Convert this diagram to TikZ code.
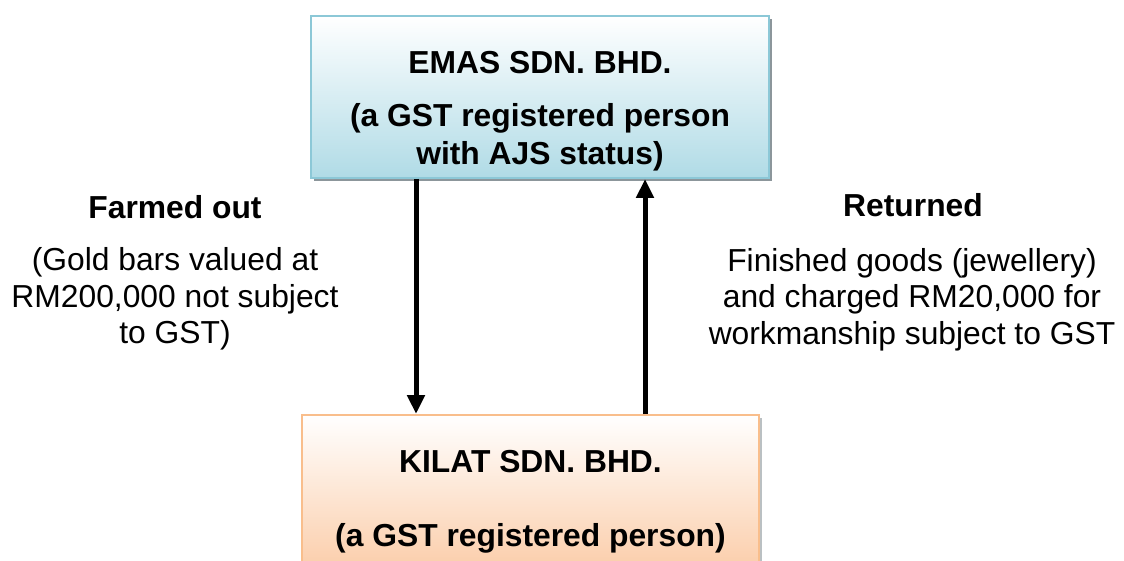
\documentclass[tikz,border=0pt]{standalone}
\usepackage{fontspec}
\setmainfont{Liberation Sans}
\usetikzlibrary{arrows.meta,shadows,calc}
\definecolor{bluebd}{RGB}{140,200,215}
\definecolor{bluebot}{RGB}{176,219,230}
\definecolor{orgbd}{RGB}{249,190,140}
\definecolor{orgbot}{RGB}{251,203,166}
\definecolor{shadowgrey}{RGB}{140,150,155}
\begin{document}
\begin{tikzpicture}[x=1pt,y=-1pt,
  bigtxt/.style={font=\fontsize{31.8}{36.5}\selectfont, inner sep=0pt, align=center},
  boldtxt/.style={bigtxt, font=\fontsize{31.8}{37.5}\selectfont\bfseries},
  bluebox/.style={draw=bluebd, line width=2pt, top color=white, bottom color=bluebot,
    drop shadow={shadow xshift=3pt, shadow yshift=-3pt, fill=shadowgrey, opacity=1}},
  orgbox/.style={draw=orgbd, line width=2pt, top color=white, bottom color=orgbot,
    drop shadow={shadow xshift=3pt, shadow yshift=-3pt, fill=shadowgrey!60, opacity=1}},
  arr/.style={line width=5pt, -{Triangle[length=19pt,width=17pt]}}
]
\useasboundingbox (0,0) rectangle (1124,561);
\clip (0,0) rectangle (1124,561);
\node[bluebox, minimum width=458pt, minimum height=162pt, inner sep=0pt] (emas) at (540,97) {};
\node[orgbox, minimum width=457pt, minimum height=162pt, inner sep=0pt] (kilat) at (530.5,496) {};

\node[boldtxt] (emast) at (540,63) {EMAS SDN. BHD.};
\node[boldtxt] (emasd) at (540,137.5) {(a GST registered person\\with AJS status)};
\node[boldtxt] (kilatt) at (530.5,462) {KILAT SDN. BHD.};
\node[boldtxt] (kilatd) at (530.5,538) {(a GST registered person)};

\coordinate (xl) at (416,0);
\coordinate (xr) at (645,0);
\draw[arr] (xl |- emas.south) -- (xl |- kilat.north);
\draw[arr] (xr |- kilat.north) -- (xr |- emas.south);

\node[boldtxt] (farm) at (175,207.5) {Farmed out};
\node[bigtxt] (farmd) at (175,299) {(Gold bars valued at\\RM200,000 not subject\\to GST)};
\node[boldtxt] (ret) at (913,205) {Returned};
\node[bigtxt] (retd) at (912,299.5) {Finished goods (jewellery)\\and charged RM20,000 for\\workmanship subject to GST};
\end{tikzpicture}
\end{document}
